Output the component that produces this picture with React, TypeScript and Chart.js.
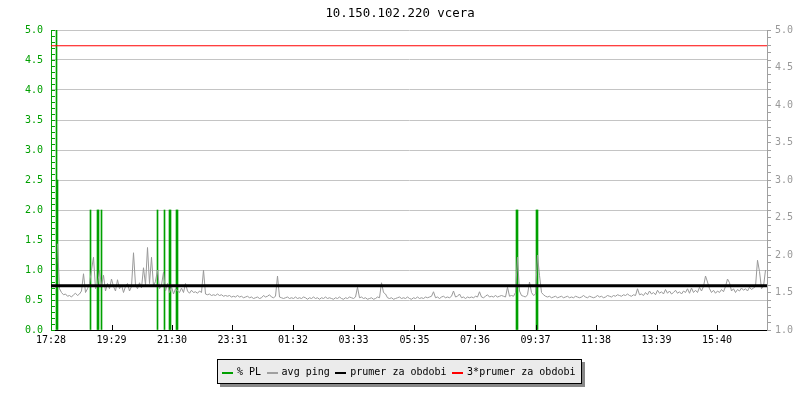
import React, { useEffect, useRef } from 'react';
import { Chart, registerables } from 'chart.js';
Chart.register(...registerables);

// ---------- data ----------
const TITLE = '10.150.102.220 vcera';
const START_TIME = '17:28';
const X_TICK_LABELS = ['17:28', '19:29', '21:30', '23:31', '01:32', '03:33', '05:35', '07:36', '09:37', '11:38', '13:39', '15:40'];
const X_SPAN_MIN = 1432; // minutes shown on the x axis

// % PL (packet loss) bars: minute offsets and values (left axis)
const PL_MINUTES = [11, 13, 79, 93, 95, 101, 213, 227, 237, 239, 251, 253, 931, 933, 971, 973];
const PL_VALUES = [5.0, 2.5, 2.0, 2.0, 2.0, 2.0, 2.0, 2.0, 2.0, 2.0, 2.0, 2.0, 2.0, 2.0, 2.0, 2.0];

// avg ping samples (right axis), one every PING_STEP_MIN minutes
const PING_START_MIN = 13;
const PING_STEP_MIN = 4;
const PING_VALUES = [
  // evening, noisy
  2.15, 1.55, 1.50, 1.47, 1.48, 1.45, 1.46, 1.44, 1.47, 1.49,
  1.46, 1.48, 1.52, 1.75, 1.50, 1.55, 1.62, 1.80, 1.97, 1.55,
  1.60, 1.80, 1.58, 1.73, 1.52, 1.62, 1.55, 1.68, 1.58, 1.52,
  1.67, 1.55, 1.60, 1.50, 1.58, 1.62, 1.52, 1.58, 2.03, 1.60,
  1.55, 1.63, 1.56, 1.83, 1.60, 2.10, 1.62, 1.97, 1.58, 1.65,
  1.80, 1.55, 1.60, 1.77, 1.52, 1.62, 1.50, 1.58, 1.48, 1.55,
  1.52, 1.50, 1.56, 1.50, 1.62, 1.52, 1.49, 1.53, 1.50, 1.51,
  1.49, 1.52, 1.50, 1.80, 1.48,
  // late evening
  1.47, 1.48, 1.46, 1.47, 1.46, 1.48, 1.46, 1.47, 1.45, 1.46,
  1.45, 1.46, 1.44, 1.45, 1.44, 1.46, 1.44, 1.45, 1.43, 1.44,
  1.45, 1.43, 1.44, 1.42, 1.43, 1.44, 1.42, 1.43, 1.46, 1.44,
  1.45, 1.47, 1.44, 1.43, 1.45, 1.72, 1.44, 1.43, 1.42, 1.43,
  1.44, 1.42,
  // night
  1.43, 1.42, 1.44, 1.42, 1.43, 1.42, 1.44, 1.43, 1.41, 1.43,
  1.42, 1.44, 1.42, 1.43, 1.41, 1.43, 1.42, 1.44, 1.42, 1.43,
  1.42, 1.41, 1.43, 1.42, 1.44, 1.42, 1.41, 1.43, 1.42, 1.44,
  1.43, 1.42, 1.44, 1.57, 1.43, 1.44, 1.42, 1.43, 1.41, 1.42,
  1.43, 1.41, 1.42, 1.44, 1.43, 1.63, 1.50, 1.48, 1.43, 1.42,
  1.43, 1.41, 1.42, 1.43, 1.44, 1.42, 1.43, 1.42, 1.44, 1.42,
  1.41, 1.43, 1.42, 1.44, 1.42, 1.43, 1.42, 1.44, 1.43, 1.44,
  1.45, 1.51, 1.43, 1.44, 1.42, 1.44, 1.45, 1.43, 1.44, 1.43,
  1.45, 1.52, 1.44, 1.45, 1.48, 1.43, 1.44, 1.42, 1.44, 1.43,
  1.44, 1.43, 1.45, 1.44, 1.51, 1.44, 1.43, 1.45, 1.47, 1.44,
  1.45, 1.44, 1.46, 1.44, 1.45, 1.46, 1.45, 1.44, 1.57, 1.45,
  // morning
  1.46, 1.45, 1.50, 1.97, 1.52, 1.46, 1.45, 1.44, 1.47, 1.64,
  1.50, 1.46, 1.48, 2.00, 1.73, 1.50, 1.47, 1.45, 1.44, 1.45,
  1.43, 1.44, 1.45, 1.43, 1.44, 1.45, 1.43, 1.44, 1.45, 1.43,
  1.44, 1.43, 1.45, 1.44, 1.43, 1.44, 1.46, 1.44, 1.43, 1.45,
  1.44, 1.43, 1.44, 1.46, 1.44, 1.45, 1.43, 1.44, 1.46, 1.45,
  1.44, 1.46, 1.45, 1.47, 1.46, 1.45, 1.47, 1.46, 1.48, 1.46,
  1.45, 1.47, 1.46, 1.55, 1.47,
  // afternoon
  1.48, 1.46, 1.50, 1.47, 1.52, 1.48, 1.50, 1.47, 1.53, 1.49,
  1.51, 1.48, 1.54, 1.49, 1.52, 1.48, 1.50, 1.53, 1.49, 1.51,
  1.48, 1.52, 1.50, 1.55, 1.49, 1.56, 1.50, 1.53, 1.50, 1.57,
  1.52, 1.58, 1.72, 1.64, 1.55, 1.50, 1.53, 1.49, 1.52, 1.50,
  1.54, 1.51, 1.58, 1.68, 1.63, 1.52, 1.55, 1.50, 1.54, 1.52,
  1.56, 1.53, 1.55, 1.52, 1.57, 1.54, 1.56, 1.58, 1.93, 1.78,
  1.55, 1.58, 1.80,
];

const PRUMER = 1.59;      // prumer za obdobi (right axis)
const PRUMER_3X = 4.79;   // 3*prumer za obdobi (right axis)

const LEGEND_LABELS = ['% PL', 'avg ping', 'prumer za obdobi', '3*prumer za obdobi'];

// ---------- styles ----------
const GREEN = '#00a000';
const GREY = '#999999';
const LEGEND_COLORS = [GREEN, '#a0a0a0', '#000000', '#ff0000'];
const FONT = '"DejaVu Sans Mono", monospace';

const toMin = (s: string) => {
  const [h, m] = s.split(':').map(Number);
  return h * 60 + m;
};
const X_TICK_MINUTES = X_TICK_LABELS.map((l) => (toMin(l) - toMin(START_TIME) + 1440) % 1440);

const innerTicks = {
  id: 'innerTicks',
  afterDraw(chart: any) {
    const { ctx, chartArea, scales } = chart;
    const y = scales.y;
    const x = scales.x;
    ctx.save();
    ctx.lineWidth = 1;
    ctx.strokeStyle = GREEN;
    ctx.beginPath();
    for (let i = 0; i <= 50; i++) {
      const py = Math.round(y.getPixelForValue(i / 10)) + 0.5;
      ctx.moveTo(chartArea.left, py);
      ctx.lineTo(chartArea.left + 4, py);
    }
    ctx.stroke();
    ctx.strokeStyle = '#000';
    ctx.beginPath();
    x.ticks.forEach((t: any) => {
      if (t.value <= 0) return;
      const px = Math.round(x.getPixelForValue(t.value)) + 0.5;
      ctx.moveTo(px, chartArea.bottom);
      ctx.lineTo(px, chartArea.bottom - 5);
    });
    ctx.stroke();
    ctx.restore();
  },
};

export default function App() {
  const ref = useRef<HTMLCanvasElement | null>(null);

  useEffect(() => {
    if (!ref.current) return;
    const pingData = PING_VALUES.map((v, i) => ({ x: PING_START_MIN + i * PING_STEP_MIN, y: v }));
    const plData = PL_MINUTES.map((m, i) => ({ x: m, y: PL_VALUES[i] }));
    const chart = new Chart(ref.current, {
      type: 'line',
      data: {
        datasets: [
          {
            label: LEGEND_LABELS[2],
            data: [{ x: 0, y: PRUMER }, { x: X_SPAN_MIN, y: PRUMER }],
            yAxisID: 'y1',
            borderColor: '#000',
            borderWidth: 3,
            pointRadius: 0,
            order: 0,
          },
          {
            label: LEGEND_LABELS[3],
            data: [{ x: 0, y: PRUMER_3X }, { x: X_SPAN_MIN, y: PRUMER_3X }],
            yAxisID: 'y1',
            borderColor: '#ff0000',
            borderWidth: 1,
            pointRadius: 0,
            order: 0,
          },
          {
            label: LEGEND_LABELS[1],
            data: pingData,
            yAxisID: 'y1',
            borderColor: GREY,
            borderWidth: 1,
            pointRadius: 0,
            tension: 0,
            order: 1,
          },
          {
            type: 'bar',
            label: LEGEND_LABELS[0],
            data: plData,
            yAxisID: 'y',
            backgroundColor: GREEN,
            borderWidth: 0,
            barThickness: 1,
            order: 2,
          } as any,
        ],
      },
      options: {
        responsive: false,
        animation: false,
        events: [],
        layout: { padding: 0 },
        plugins: {
          legend: { display: false },
          tooltip: { enabled: false },
          title: {
            display: true,
            text: TITLE,
            color: '#000',
            font: { family: FONT, size: 12.4, weight: 'normal' },
            padding: { top: 6, bottom: 9.12 },
          },
        },
        scales: {
          x: {
            type: 'linear',
            min: 0,
            max: X_SPAN_MIN,
            offset: false,
            afterBuildTicks: (scale: any) => {
              scale.ticks = X_TICK_MINUTES.map((v) => ({ value: v }));
            },
            afterFit: (scale: any) => {
              scale.height = 70;
            },
            ticks: {
              autoSkip: false,
              maxRotation: 0,
              padding: 4,
              color: '#000',
              font: { family: FONT, size: 10 },
              callback: (_v: any, i: number) => X_TICK_LABELS[i],
            },
            grid: { drawOnChartArea: false, drawTicks: false },
            border: { color: '#000', width: 1 },
          },
          y: {
            position: 'left',
            min: 0,
            max: 5,
            afterFit: (scale: any) => {
              scale.width = 51;
            },
            ticks: {
              stepSize: 0.5,
              padding: 8,
              color: GREEN,
              font: { family: FONT, size: 10 },
              callback: (v: any) => Number(v).toFixed(1),
            },
            grid: { color: '#c4c4c4', drawTicks: false },
            border: { color: GREEN, width: 1 },
          },
          y1: {
            position: 'right',
            min: 1,
            max: 5,
            afterFit: (scale: any) => {
              scale.width = 33;
            },
            ticks: {
              stepSize: 0.1,
              autoSkip: false,
              padding: 4,
              color: '#999999',
              font: { family: FONT, size: 10 },
              callback: (v: any) => {
                const n = Number(v);
                const r = Math.round(n * 2) / 2;
                return Math.abs(n - r) < 1e-6 ? r.toFixed(1) : '';
              },
            },
            grid: { drawOnChartArea: false, drawTicks: true, tickLength: 4, color: '#a0a0a0' },
            border: { color: '#a0a0a0', width: 1 },
          },
        },
      },
      plugins: [innerTicks],
    } as any);
    return () => chart.destroy();
  }, []);

  return (
    <div style={{ position: 'fixed', left: 0, top: 0, width: 800, height: 400, background: '#fff' }}>
      <canvas ref={ref} width={800} height={400} style={{ display: 'block' }} />
      <div
        style={{
          position: 'absolute',
          left: 217,
          top: 359,
          width: 365,
          height: 25,
          boxSizing: 'border-box',
          border: '1px solid #000',
          background: '#ebebeb',
          boxShadow: '3px 3px 0 #888888',
          display: 'flex',
          alignItems: 'center',
          paddingLeft: 4,
          font: `10px ${FONT}`,
          color: '#000',
          whiteSpace: 'nowrap',
        }}
      >
        {LEGEND_LABELS.map((l, i) => (
          <React.Fragment key={l}>
            <span style={{ display: 'inline-block', width: 11, height: 2, background: LEGEND_COLORS[i], marginRight: 4, marginTop: 2 }} />
            <span style={{ marginRight: 5.5 }}>{l}</span>
          </React.Fragment>
        ))}
      </div>
    </div>
  );
}
